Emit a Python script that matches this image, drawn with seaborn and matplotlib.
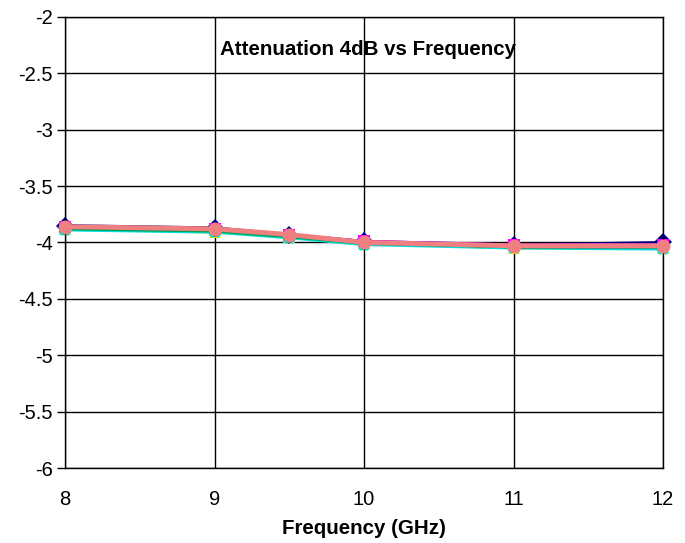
import numpy as np
import pandas as pd
import matplotlib
matplotlib.use("Agg")
import matplotlib.pyplot as plt
import seaborn as sns

# data
freq = [8, 9, 9.5, 10, 11, 12]
s1 = [-3.85, -3.87, -3.93, -3.99, -4.02, -4.00]
s2 = [-3.86, -3.88, -3.93, -3.99, -4.02, -4.02]
s3 = [-3.88, -3.91, -3.95, -4.01, -4.05, -4.05]
s4 = [-3.89, -3.91, -3.96, -4.02, -4.05, -4.06]
s5 = [-3.87, -3.89, -3.94, -4.00, -4.04, -4.04]
s6 = [-3.88, -3.90, -3.95, -4.01, -4.04, -4.04]
s7 = [-3.86, -3.88, -3.93, -4.00, -4.03, -4.03]
series_names = ["S1", "S2", "S3", "S4", "S5", "S6", "S7"]
series_vals = [s1, s2, s3, s4, s5, s6, s7]
yticks = [-2, -2.5, -3, -3.5, -4, -4.5, -5, -5.5, -6]
ytick_labels = ["-2", "-2.5", "-3", "-3.5", "-4", "-4.5", "-5", "-5.5", "-6"]
xticks = [8, 9, 10, 11, 12]

rows = []
for name, vals in zip(series_names, series_vals):
    for f, v in zip(freq, vals):
        rows.append({"freq": f, "att": v, "series": name})
df = pd.DataFrame(rows)

colors = ["#000080", "#FF00FF", "#E8E800", "#00E0E0", "#202020", "#00A050", "#F08080"]
markers = ["D", "s", "^", "X", "*", "P", "o"]

sns.set_style("white")
plt.rcParams["font.family"] = ["Liberation Sans", "DejaVu Sans"]
plt.rcParams["text.color"] = "black"
plt.rcParams["xtick.color"] = "black"
plt.rcParams["ytick.color"] = "black"
plt.rcParams["axes.labelcolor"] = "black"

fig = plt.figure(figsize=(6.85, 5.43), dpi=100)
ax = fig.add_axes([0.095, 0.138, 0.873, 0.831])

sns.lineplot(data=df, x="freq", y="att", hue="series", style="series",
             palette=colors, markers=markers, dashes=False, markersize=9,
             linewidth=2, markeredgewidth=0, legend=False, ax=ax)
for ln in ax.lines:
    ln.set_clip_on(False)
# the last series (salmon) sits on top and is drawn heavier
top = ax.lines[-1]
top.set_linewidth(3.5)
top.set_markersize(10)
top.set_zorder(5)

ax.set_xlim(8, 12)
ax.set_ylim(-6, -2)
ax.set_xticks(xticks)
ax.set_yticks(yticks)
ax.set_yticklabels(ytick_labels)
ax.grid(True, color="black", linewidth=1)
ax.set_axisbelow(True)
for sp in ax.spines.values():
    sp.set_color("black")
    sp.set_linewidth(1)
ax.tick_params(axis="y", length=6, width=1, color="black", labelsize=14.5, pad=3, left=True)
ax.tick_params(axis="x", length=0, labelsize=14.5, pad=16)
ax.set_xlabel("Frequency (GHz)", fontsize=14.8, fontweight="bold", labelpad=7)
ax.set_ylabel("")
ax.text(0.507, 0.927, "Attenuation 4dB vs Frequency", transform=ax.transAxes,
        ha="center", va="center", fontsize=14.8, fontweight="bold")

fig.savefig("out.png", dpi=100)
